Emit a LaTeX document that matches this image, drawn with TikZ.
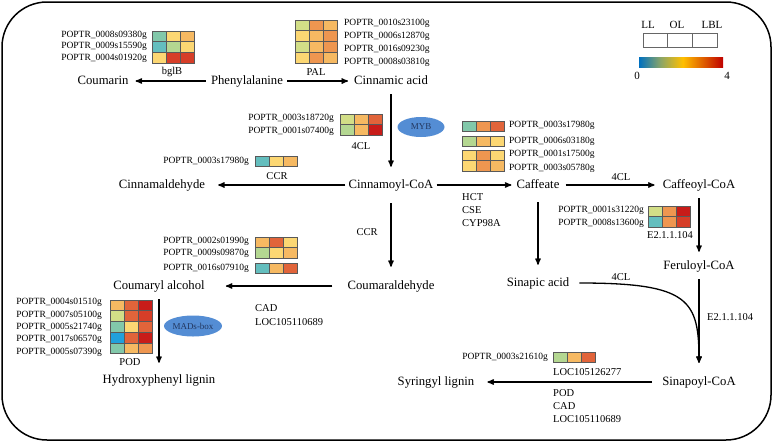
\documentclass[tikz,border=0pt]{standalone}
\usepackage{fontspec}
\setmainfont{Liberation Serif}
\usepackage{tikz}
\usetikzlibrary{arrows,shapes.geometric}

\definecolor{cBlu}{RGB}{33,160,220}
\definecolor{cTea}{RGB}{100,190,190}
\definecolor{cTgr}{RGB}{130,200,170}
\definecolor{cLgr}{RGB}{180,215,145}
\definecolor{cYgr}{RGB}{210,222,135}
\definecolor{cYel}{RGB}{252,215,115}
\definecolor{cLor}{RGB}{246,185,98}
\definecolor{cOra}{RGB}{238,150,80}
\definecolor{cOrd}{RGB}{225,100,58}
\definecolor{cRo}{RGB}{214,62,40}
\definecolor{cRed}{RGB}{200,28,25}
\definecolor{tfblue}{RGB}{84,141,212}
\definecolor{tftext}{RGB}{35,55,95}

\pgfdeclarehorizontalshading{legbar}{100bp}{rgb(0bp)=(0,0.44,0.75); rgb(25bp)=(0,0.44,0.75); rgb(38bp)=(0.55,0.65,0.4); rgb(51bp)=(1,0.75,0); rgb(75bp)=(0.75,0,0); rgb(100bp)=(0.75,0,0)}

\newcommand{\hmap}[3]{%
  \foreach \row [count=\i from 0] in {#3} {
    \foreach \cc [count=\j from 0] in \row {
      \filldraw[hmcell,fill=\cc] (#1+\j*14,#2+\i*10.7) rectangle ++(14,10.7);
    }
  }
}

\begin{document}
\begin{tikzpicture}[x=1pt,y=-1pt,>=stealth',
                    flow/.style={->,line width=1.3pt,shorten >=1pt},
                    met/.style={inner xsep=3pt,inner ysep=7pt,text height=9pt,text depth=3pt,
                                font=\fontsize{12.7}{14}\selectfont},
                    enz/.style={inner sep=0pt,font=\fontsize{10.5}{12}\selectfont},
                    gene/.style={inner sep=0pt,font=\fontsize{9.5}{10}\selectfont},
                    hmcell/.style={draw=black!65,line width=0.5pt},
                    tf/.style={ellipse,fill=tfblue,text=tftext,inner sep=0pt,
                               font=\fontsize{9}{10}\selectfont}]
  \useasboundingbox (0,0) rectangle (773,442);
  \draw[line width=1.5pt,rounded corners=45pt] (2,2) rectangle (771,440);

  \node[met] (Cou)    at (103,81)  {Coumarin};
  \node[met] (Phe)    at (247,81)  {Phenylalanine};
  \node[met] (CinA)   at (391,81)  {Cinnamic acid};
  \node[met] (CinCoA) at (391,185) {Cinnamoyl-CoA};
  \node[met] (Cald)   at (162,185) {Cinnamaldehyde};
  \node[met] (Caf)    at (538,185) {Caffeate};
  \node[met] (CafCoA) at (699,185) {Caffeoyl-CoA};
  \node[met] (FerCoA) at (699,266) {Feruloyl-CoA};
  \node[met] (SinA)   at (538,283) {Sinapic acid};
  \node[met] (SinCoA) at (699,382) {Sinapoyl-CoA};
  \node[met] (Syr)    at (436,382) {Syringyl lignin};
  \node[met] (Coald)  at (391,286) {Coumaraldehyde};
  \node[met] (Coalc)  at (159,286) {Coumaryl alcohol};
  \node[met] (Hyd)    at (159,380) {Hydroxyphenyl lignin};

  \path[flow] (Phe) edge[shorten <=2pt,shorten >=4pt] (Cou)
                    edge[shorten <=1pt,shorten >=3pt] (CinA)
              (CinA) edge[shorten >=5pt] (CinCoA)
              (CinCoA) edge[shorten >=10pt] (Cald)
                       edge[shorten >=2pt] (Caf)
                       edge[shorten <=5pt,shorten >=6pt] (Coald)
              (Caf) edge[shorten <=3pt,shorten >=5pt] (CafCoA)
                    edge[shorten <=4pt,shorten >=5pt] (SinA)
              (CafCoA) edge (FerCoA)
              (FerCoA) edge[shorten >=6pt] (SinCoA)
              (SinCoA) edge[shorten <=7pt,shorten >=10pt] (Syr)
              (Coald) edge[shorten <=12pt,shorten >=18pt] (Coalc)
              (Coalc) edge[shorten >=4pt] (Hyd);
  \draw[flow,shorten <=7pt,shorten >=6pt] (SinA) .. controls +(152,0) and +(0,-82) .. (SinCoA);

  \hmap{152}{31}{{cTgr,cYel,cLor},{cTea,cLgr,cYel},{cYel,cRo,cRo}}
  \node[enz] (bglB) at (172,72) {bglB};
  \node[gene,anchor=east] (b1) at (147,35) {POPTR\_0008s09380g};
  \node[gene,anchor=east] (b2) at (147,46.5) {POPTR\_0009s15590g};
  \node[gene,anchor=east] (b3) at (147,58) {POPTR\_0004s01920g};

  \hmap{295}{20}{{cYgr,cOra,cLor},{cYel,cLor,cOra},{cYgr,cLor,cOra},{cYel,cOra,cLor}}
  \node[enz] (PAL) at (316,72) {PAL};
  \node[gene,anchor=west] (p1) at (344,23) {POPTR\_0010s23100g};
  \node[gene,anchor=west] (p2) at (344,36) {POPTR\_0006s12870g};
  \node[gene,anchor=west] (p3) at (344,49) {POPTR\_0016s09230g};
  \node[gene,anchor=west] (p4) at (344,62) {POPTR\_0008s03810g};

  \hmap{340}{114}{{cYgr,cLor,cOrd},{cLgr,cLor,cRed}}
  \node[enz] (FCLa) at (361,146) {4CL};
  \node[gene,anchor=east] (f1) at (334,118) {POPTR\_0003s18720g};
  \node[gene,anchor=east] (f2) at (334,131) {POPTR\_0001s07400g};
  \node[tf,minimum width=47pt,minimum height=20pt] (MYB) at (421,127) {MYB};

  \hmap{255}{156}{{cTea,cYel,cLor}}
  \node[enz] (CCRa) at (277,176) {CCR};
  \node[gene,anchor=east] (c1) at (249,161) {POPTR\_0003s17980g};

  \hmap{462}{121}{{cTgr,cOra,cOrd}}
  \hmap{462}{136}{{cLgr,cLor,cYel}}
  \hmap{462}{150}{{cYel,cOra,cYel},{cYel,cOra,cLor}}
  \node[gene,anchor=west] (h1) at (509,125) {POPTR\_0003s17980g};
  \node[gene,anchor=west] (h2) at (509,141) {POPTR\_0006s03180g};
  \node[gene,anchor=west] (h3) at (509,154) {POPTR\_0001s17500g};
  \node[gene,anchor=west] (h4) at (509,168) {POPTR\_0003s05780g};
  \node[enz,anchor=west] (HCT) at (462,197) {HCT};
  \node[enz,anchor=west] (CSE) at (462,210) {CSE};
  \node[enz,anchor=west] (CYP) at (462,223) {CYP98A};

  \node[enz] (FCLb) at (621,177) {4CL};
  \hmap{648}{206}{{cYgr,cOra,cRed},{cTea,cOra,cRo}}
  \node[enz] (EA) at (670,235) {E2.1.1.104};
  \node[gene,anchor=east] (e1) at (644,210) {POPTR\_0001s31220g};
  \node[gene,anchor=east] (e2) at (644,223) {POPTR\_0008s13600g};
  \node[enz] (FCLc) at (621,277) {4CL};
  \node[enz,anchor=west] (EB) at (707,317) {E2.1.1.104};

  \node[enz] (CCRb) at (367,232) {CCR};
  \hmap{255}{237}{{cLor,cOrd,cYel},{cLgr,cYel,cLor}}
  \hmap{255}{263}{{cTea,cLor,cOrd}}
  \node[gene,anchor=east] (k1) at (249,241) {POPTR\_0002s01990g};
  \node[gene,anchor=east] (k2) at (249,253) {POPTR\_0009s09870g};
  \node[gene,anchor=east] (k3) at (249,268) {POPTR\_0016s07910g};
  \node[enz,anchor=west] (CADa) at (255,308) {CAD};
  \node[enz,anchor=west] (LOCa) at (255,322) {LOC105110689};

  \hmap{110}{300}{{cLor,cOrd,cRed},{cYgr,cOrd,cRo},{cTgr,cYel,cOrd},{cBlu,cOrd,cRed},{cTgr,cLor,cOra}}
  \node[enz] (PODa) at (130,362) {POD};
  \node[gene,anchor=east] (d1) at (102,302) {POPTR\_0004s01510g};
  \node[gene,anchor=east] (d2) at (102,315) {POPTR\_0007s05100g};
  \node[gene,anchor=east] (d3) at (102,327) {POPTR\_0005s21740g};
  \node[gene,anchor=east] (d4) at (102,339.5) {POPTR\_0017s06570g};
  \node[gene,anchor=east] (d5) at (102,352) {POPTR\_0005s07390g};
  \node[tf,minimum width=57pt,minimum height=21pt] (MADS) at (193,326) {MADs-box};

  \hmap{553}{352}{{cLgr,cLor,cOrd}}
  \node[gene,anchor=east] (s1) at (548,357) {POPTR\_0003s21610g};
  \node[enz,anchor=west] (LOCb) at (553,372) {LOC105126277};
  \node[enz,anchor=west] (PODb) at (553,393) {POD};
  \node[enz,anchor=west] (CADb) at (553,406) {CAD};
  \node[enz,anchor=west] (LOCc) at (553,419) {LOC105110689};

  \node[enz,font=\fontsize{11}{12}\selectfont] (LL)  at (648,25) {LL};
  \node[enz,font=\fontsize{11}{12}\selectfont] (OL)  at (677,25) {OL};
  \node[enz,font=\fontsize{11}{12}\selectfont] (LBL) at (712,25) {LBL};
  \foreach \k in {0,1,2}
    \draw[black!60,line width=0.6pt] (643+\k*24.67,33) rectangle ++(24.67,14);
  \shade[shading=legbar] (639,57) rectangle (723,67);
  \node[enz,font=\fontsize{11}{12}\selectfont] (zero) at (637,76) {0};
  \node[enz,font=\fontsize{11}{12}\selectfont] (four) at (727,76) {4};
\end{tikzpicture}
\end{document}
